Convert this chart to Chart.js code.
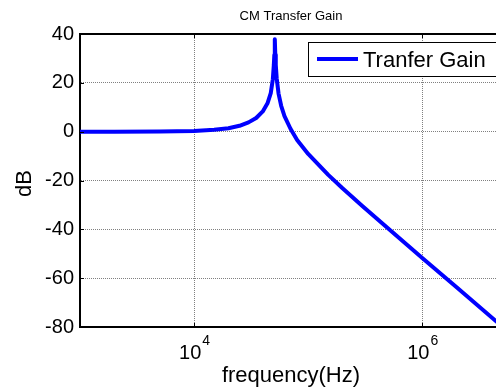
<!DOCTYPE html>
<html>
<head>
<meta charset="utf-8">
<script src="https://cdn.jsdelivr.net/npm/chart.js@4.4.0/dist/chart.umd.min.js"></script>
<style>
    html, body { margin: 0; padding: 0; background: #fff; overflow: hidden; }
    #wrap { position: relative; width: 496px; height: 392px; overflow: hidden; }
    #wrap canvas { position: absolute; left: 0; top: 0; }
</style>
</head>
<body>
<div id="wrap"><canvas id="gainChart" width="502" height="392" style="width:502px;height:392px"></canvas></div>
<script>
// ========== 数据 ==========
const freqHz = [1000, 2000, 5000, 10000, 15000, 20000, 25000, 30000, 35000, 40000,
    44000, 47000, 49000, 50000, 50500, 51000, 51500, 52000, 53000, 55000,
    58000, 62000, 70000, 80000, 100000, 150000, 200000, 300000, 500000,
    1000000, 2000000, 5000000];
const gainDb = [0.0, 0.0, 0.1, 0.3, 0.8, 1.4, 2.4, 3.8, 5.6, 8.3,
    11.6, 15.8, 21.5, 27.3, 31.5, 37.8, 31.5, 27.3, 21.8, 15.6,
    10.6, 6.4, 1.2, -3.4, -9.1, -17.7, -23.2, -30.5, -39.6,
    -51.7, -63.7, -79.7];
const xTickValues = [10000, 1000000];
const xTickExps = ['4', '6'];
const xRange = [1000, 5000000];
const yRange = [-80, 40];
const yStep = 20;

const seriesLabel = 'Tranfer Gain';
const chartTitle = 'CM Transfer Gain';
const xTitle = 'frequency(Hz)';
const yTitle = 'dB';

const FONT = "'Liberation Sans', Arial, sans-serif";

// ========== 文字、图例、上边框 ==========
const matlabDecor = {
    id: 'matlabDecor',
    afterDraw(chart) {
        const ctx = chart.ctx;
        const a = chart.chartArea;
        const xs = chart.scales.x;
        const ys = chart.scales.y;
        const midX = (a.left + a.right) / 2;

        ctx.save();
        // top border
        ctx.strokeStyle = '#000';
        ctx.lineWidth = 2;
        ctx.beginPath();
        ctx.moveTo(a.left - 1, a.top);
        ctx.lineTo(a.right, a.top);
        ctx.stroke();

        // inner tick marks
        ctx.lineWidth = 1;
        xTickValues.forEach(v => {
            const px = Math.round(xs.getPixelForValue(v)) + 0.5;
            ctx.beginPath();
            ctx.moveTo(px, a.top); ctx.lineTo(px, a.top + 4);
            ctx.moveTo(px, a.bottom); ctx.lineTo(px, a.bottom - 4);
            ctx.stroke();
        });
        ys.ticks.forEach(t => {
            const py = Math.round(ys.getPixelForValue(t.value)) + 0.5;
            ctx.beginPath();
            ctx.moveTo(a.left, py); ctx.lineTo(a.left + 4, py);
            ctx.stroke();
        });

        ctx.fillStyle = '#000';
        // title
        ctx.font = '13px ' + FONT;
        ctx.textAlign = 'center';
        ctx.textBaseline = 'alphabetic';
        ctx.fillText(chartTitle, midX, 20);

        // x title
        ctx.font = '22px ' + FONT;
        ctx.fillText(xTitle, midX, 382);

        // y title
        ctx.save();
        ctx.translate(31, (a.top + a.bottom) / 2 + 3);
        ctx.rotate(-Math.PI / 2);
        ctx.textAlign = 'center';
        ctx.fillText(yTitle, 0, 0);
        ctx.restore();

        // x tick labels 10^n
        xTickValues.forEach((v, i) => {
            const px = xs.getPixelForValue(v);
            ctx.font = '20px ' + FONT;
            const baseW = ctx.measureText('10').width;
            ctx.font = '14px ' + FONT;
            const expW = ctx.measureText(xTickExps[i]).width;
            const left = px - (baseW + expW) / 2;
            ctx.textAlign = 'left';
            ctx.font = '20px ' + FONT;
            ctx.fillText('10', left, 359);
            ctx.font = '14px ' + FONT;
            ctx.fillText(xTickExps[i], left + baseW + 1, 345);
        });

        // legend
        const lx = 308, ly = 42, lw = a.right - 4 - 308, lh = 34;
        ctx.fillStyle = '#fff';
        ctx.fillRect(lx, ly, lw, lh);
        ctx.strokeStyle = '#000';
        ctx.lineWidth = 1;
        ctx.strokeRect(lx + 0.5, ly + 0.5, lw, lh);
        const ds = chart.data.datasets[0];
        ctx.strokeStyle = ds.borderColor;
        ctx.lineWidth = ds.borderWidth;
        ctx.beginPath();
        ctx.moveTo(317, 59);
        ctx.lineTo(358, 59);
        ctx.stroke();
        ctx.fillStyle = '#000';
        ctx.font = '22px ' + FONT;
        ctx.textAlign = 'left';
        ctx.fillText(ds.label, 363, 67);
        ctx.restore();
    }
};

const points = freqHz.map((f, i) => ({ x: f, y: gainDb[i] }));

new Chart(document.getElementById('gainChart'), {
    type: 'line',
    data: {
        datasets: [{
            label: seriesLabel,
            data: points,
            borderColor: '#0000ff',
            borderWidth: 4,
            pointRadius: 0,
            tension: 0,
            fill: false,
            borderJoinStyle: 'round',
            borderCapStyle: 'round'
        }]
    },
    options: {
        responsive: false,
        animation: false,
        layout: { padding: { top: 34, left: 0, right: 0, bottom: 0 } },
        plugins: {
            legend: { display: false },
            title: { display: false },
            tooltip: { enabled: false }
        },
        scales: {
            x: {
                type: 'logarithmic',
                min: xRange[0],
                max: xRange[1],
                afterBuildTicks: s => { s.ticks = xTickValues.map(v => ({ value: v })); },
                afterFit: s => { s.height = 65; },
                ticks: { display: false },
                grid: { color: '#808080', lineWidth: 1, drawTicks: false },
                border: { display: true, color: '#000', width: 2, dash: [1, 1] }
            },
            y: {
                min: yRange[0],
                max: yRange[1],
                afterFit: s => { s.width = 80; },
                ticks: {
                    stepSize: yStep,
                    padding: 6,
                    color: '#000',
                    font: { family: FONT, size: 20 }
                },
                grid: { color: '#808080', lineWidth: 1, drawTicks: false },
                border: { display: true, color: '#000', width: 2, dash: [1, 1] }
            }
        }
    },
    plugins: [matlabDecor]
});
</script>
</body>
</html>
